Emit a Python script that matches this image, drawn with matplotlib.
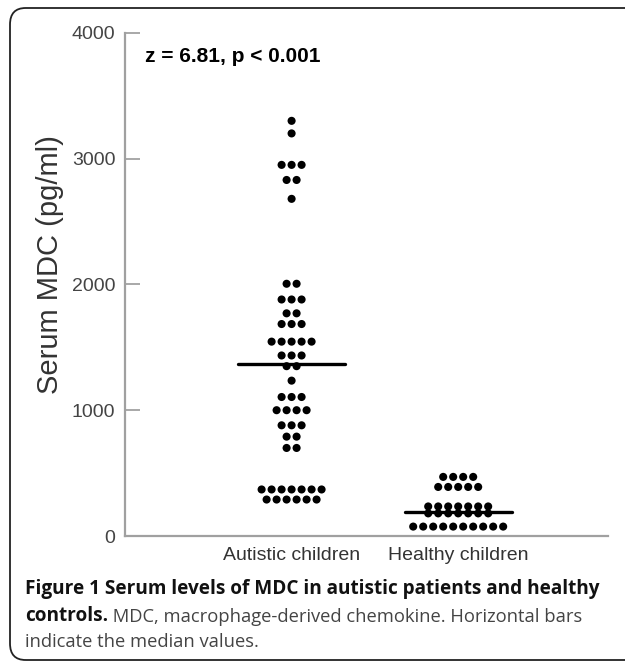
import numpy as np
import matplotlib
matplotlib.use("Agg")
import matplotlib.pyplot as plt
from matplotlib.patches import FancyBboxPatch

# data (pg/ml), one entry per dot
groups = ['Autistic children', 'Healthy children']
autistic = [3300, 3200, 2950, 2950, 2950, 2830, 2830, 2680,
            2005, 2005, 1880, 1880, 1880, 1770, 1770, 1685, 1685, 1685,
            1545, 1545, 1545, 1545, 1545, 1435, 1435, 1435, 1350, 1350, 1235,
            1105, 1105, 1105, 1000, 1000, 1000, 1000, 880, 880, 880,
            790, 790, 700, 700,
            370, 370, 370, 370, 370, 370, 370,
            290, 290, 290, 290, 290, 290]
healthy = [470, 470, 470, 470,
           390, 390, 390, 390, 390,
           235, 235, 235, 235, 235, 235, 235,
           180, 180, 180, 180, 180, 180, 180,
           75, 75, 75, 75, 75, 75, 75, 75, 75, 75]
medians = [1370, 190]
yticks = [0, 1000, 2000, 3000, 4000]
stat_text = 'z = 6.81, p < 0.001'

fig = plt.figure(figsize=(6.25, 6.62), dpi=100)
ax = fig.add_axes([0.2, 0.1903, 0.773, 0.7602])

spacing = 0.06
for pos, vals in zip([1, 2], [autistic, healthy]):
    vals = np.array(vals)
    for v in np.unique(vals):
        n = np.sum(vals == v)
        xs = pos + (np.arange(n) - (n - 1) / 2) * spacing
        ax.scatter(xs, [v] * n, s=34, color='black', edgecolors='none', zorder=3)

for pos, m in zip([1, 2], medians):
    ax.plot([pos - 0.32, pos + 0.32], [m, m], color='black', lw=2.4,
            solid_capstyle='round', zorder=4)

ax.set_xlim(0, 2.9)
ax.set_ylim(0, 4000)
ax.set_xticks([1, 2])
ax.set_xticklabels(groups, fontsize=14, color='#333333', family='Liberation Sans')
ax.set_yticks(yticks)
ax.set_yticklabels([str(t) for t in yticks], fontsize=14, color='#444444',
                   family='Liberation Sans')
ax.tick_params(axis='x', length=0, pad=8)
ax.tick_params(axis='y', direction='in', length=11, width=1.2, color='#999999', pad=7)
for s in ['top', 'right']:
    ax.spines[s].set_visible(False)
for s in ['left', 'bottom']:
    ax.spines[s].set_color('#a0a0a0')
    ax.spines[s].set_linewidth(1.6)

fig.text(50 / 625, 1 - 265 / 662, 'Serum MDC (pg/ml)', rotation=90, fontsize=21,
         color='#333333', family='Liberation Sans', ha='center', va='center')
fig.text(145 / 625, 1 - 56 / 662, stat_text, fontsize=15, fontweight='bold',
         family='Liberation Sans', ha='left', va='center')

# caption
cap_fs = 13.7
reg_fs = 13.2
fig.text(25 / 625, 1 - 589 / 662,
         'Figure 1 Serum levels of MDC in autistic patients and healthy',
         fontsize=cap_fs, fontweight='bold', family='Open Sans', color='#111111',
         ha='left', va='center')
t_bold = fig.text(25 / 625, 1 - 616 / 662, 'controls.', fontsize=cap_fs,
                  fontweight='bold', family='Open Sans', color='#111111',
                  ha='left', va='center')
fig.draw_without_rendering()
bb = t_bold.get_window_extent(fig.canvas.get_renderer())
fig.text(bb.x1 / fig.bbox.width, bb.y0 / fig.bbox.height,
         ' MDC, macrophage-derived chemokine. Horizontal bars', fontsize=reg_fs,
         family='Open Sans', color='#444444', ha='left', va='bottom')
fig.text(25 / 625, 1 - 642 / 662, 'indicate the median values.', fontsize=reg_fs,
         family='Open Sans', color='#444444', ha='left', va='center')

# rounded frame around the figure
frame = FancyBboxPatch((10 / 625, 2 / 662), 1.2, 652 / 662,
                       boxstyle='round,pad=0,rounding_size=0.025',
                       transform=fig.transFigure, fill=False,
                       edgecolor='#222222', lw=1.3)
fig.patches.append(frame)

fig.savefig('out.png', dpi=100)
